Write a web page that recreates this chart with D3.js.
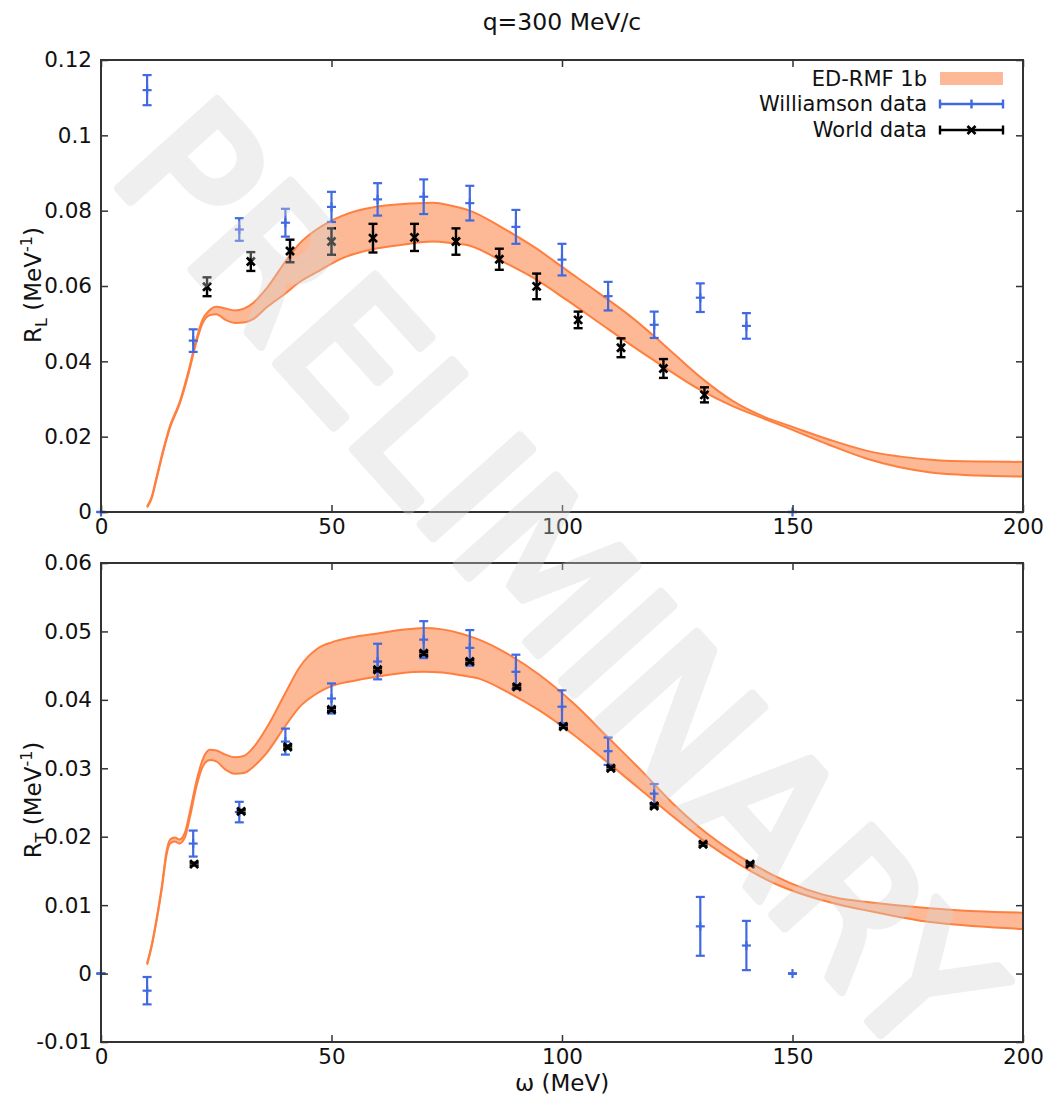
<!DOCTYPE html>
<html>
<head>
<meta charset="utf-8">
<title>q=300 MeV/c response functions</title>
<script src="https://d3js.org/d3.v7.min.js"></script>
<style>
  body { margin: 0; background: #ffffff; }
  text { font-family: "DejaVu Sans", sans-serif; fill: #111; }
</style>
</head>
<body>
<div id="chart"></div>
<script>
// ---- data ----
// ED-RMF 1b band, longitudinal response R_L
var rlBandOmega = [10, 11, 12, 13.5, 15, 17, 19, 20.5, 22, 23.5, 25, 27, 29, 31, 33, 36, 40, 43, 47, 52, 60, 65, 72, 76, 80, 87, 94, 101, 108, 115, 122, 130, 137, 144, 150, 158, 166, 180, 190, 200];
var rlUpper = [0.0015, 0.004, 0.009, 0.0165, 0.023, 0.029, 0.0375, 0.045, 0.051, 0.0535, 0.0545, 0.054, 0.0535, 0.054, 0.0555, 0.0595, 0.0665, 0.0712, 0.0752, 0.0785, 0.0811, 0.0817, 0.0821, 0.0813, 0.080, 0.0755, 0.0703, 0.0642, 0.0581, 0.0518, 0.0445, 0.0358, 0.0295, 0.0252, 0.0226, 0.0192, 0.0163, 0.0139, 0.0134, 0.0133];
var rlLower = [0.0012, 0.0037, 0.0085, 0.016, 0.0225, 0.0285, 0.0368, 0.0442, 0.050, 0.0522, 0.0525, 0.051, 0.0502, 0.0503, 0.0512, 0.0544, 0.058, 0.061, 0.0638, 0.0672, 0.070, 0.0709, 0.0718, 0.0714, 0.0707, 0.0666, 0.062, 0.0563, 0.0503, 0.0443, 0.0386, 0.0324, 0.0281, 0.0247, 0.0218, 0.0178, 0.0142, 0.0105, 0.0097, 0.0094];

// ED-RMF 1b band, transverse response R_T
var rtBandOmega = [10, 11, 12, 13.2, 14.2, 15, 16, 17, 18.2, 19.3, 20.8, 22.2, 23.6, 25, 27, 29, 31, 33, 36, 40, 43, 47, 50, 55, 60, 65, 70, 74, 78, 82, 88, 95, 102.5, 110, 117, 124, 131.4, 138.6, 142.7, 146, 153, 160, 167, 179, 190, 200];
var rtUpper = [0.0015, 0.0042, 0.0078, 0.0128, 0.0178, 0.0196, 0.0199, 0.0196, 0.0206, 0.0237, 0.0284, 0.0315, 0.0327, 0.0326, 0.032, 0.0316, 0.0318, 0.033, 0.036, 0.041, 0.0447, 0.0475, 0.0484, 0.0492, 0.0497, 0.0502, 0.0505, 0.0503, 0.0497, 0.0488, 0.0468, 0.0437, 0.0395, 0.0345, 0.0298, 0.0249, 0.0205, 0.0171, 0.0155, 0.0143, 0.0123, 0.011, 0.0104, 0.0096, 0.0091, 0.0089];
var rtLower = [0.0013, 0.004, 0.0075, 0.0124, 0.0173, 0.019, 0.0193, 0.019, 0.0199, 0.0229, 0.0276, 0.0304, 0.0312, 0.031, 0.0298, 0.0292, 0.0293, 0.0302, 0.0323, 0.0362, 0.0389, 0.041, 0.042, 0.0428, 0.0434, 0.0439, 0.0441, 0.044, 0.0436, 0.0431, 0.0412, 0.0385, 0.0349, 0.0308, 0.0269, 0.023, 0.0191, 0.0159, 0.0143, 0.0132, 0.0114, 0.0101, 0.0091, 0.0076, 0.0069, 0.0065];

// Williamson data (same omega grid for both panels)
var williamsonOmega = [0, 10, 20, 30, 40, 50, 60, 70, 80, 90, 100, 110, 120, 130, 140, 150];
var rlWilliamson = [0, 0.112, 0.0455, 0.075, 0.0768, 0.081, 0.083, 0.0837, 0.082, 0.0757, 0.067, 0.0573, 0.0497, 0.0569, 0.0494, 0];
var rlWilliamsonErr = [0, 0.004, 0.003, 0.003, 0.0037, 0.004, 0.0043, 0.0046, 0.0046, 0.0045, 0.0042, 0.0038, 0.0035, 0.0038, 0.0034, 0];
var rtWilliamson = [0, -0.0025, 0.019, 0.0236, 0.0339, 0.0402, 0.0456, 0.0488, 0.0476, 0.0441, 0.039, 0.0325, 0.0263, 0.0069, 0.0041, 0];
var rtWilliamsonErr = [0, 0.002, 0.0019, 0.0015, 0.0019, 0.0022, 0.0026, 0.0027, 0.0026, 0.0025, 0.0024, 0.002, 0.0014, 0.0043, 0.0036, 0];

// World data
var rlWorldOmega = [23, 32.5, 41, 50, 59, 68, 77, 86.4, 94.5, 103.5, 112.8, 122, 130.9];
var rlWorld = [0.0598, 0.0665, 0.0693, 0.0718, 0.0727, 0.0729, 0.0718, 0.0671, 0.0599, 0.051, 0.0436, 0.0381, 0.0311];
var rlWorldErr = [0.0025, 0.0025, 0.003, 0.0035, 0.0038, 0.0036, 0.0035, 0.0028, 0.0034, 0.0022, 0.0025, 0.0025, 0.002];
var rtWorldOmega = [20.2, 30.4, 40.5, 50, 60, 70, 80, 90.2, 100.3, 110.6, 120, 130.6, 140.8];
var rtWorld = [0.016, 0.0237, 0.0331, 0.0386, 0.0444, 0.0468, 0.0456, 0.0419, 0.0361, 0.030, 0.0245, 0.0189, 0.016];
var rtWorldErr = [0.0002, 0.0002, 0.0002, 0.0002, 0.0002, 0.0002, 0.0002, 0.0002, 0.0002, 0.0002, 0.0002, 0.0002, 0.0002];

var xTicks = [0, 50, 100, 150, 200];
var rlTicks = [0, 0.02, 0.04, 0.06, 0.08, 0.1, 0.12];
var rtTicks = [-0.01, 0, 0.01, 0.02, 0.03, 0.04, 0.05, 0.06];
var legendLabels = ["ED-RMF 1b", "Williamson data", "World data"];

// ---- layout ----
var W = 1053, H = 1097;
var bandFill = "#fdb995", bandLine = "#ff7f3f", blue = "#4169e1";

var svg = d3.select("#chart").append("svg")
    .attr("width", W)
    .attr("height", H);

var x = d3.scaleLinear().domain([0, 200]).range([101, 1023]);
var yL = d3.scaleLinear().domain([0, 0.12]).range([512, 60]);
var yT = d3.scaleLinear().domain([-0.01, 0.06]).range([1042, 563]);

function fmt(d) { return String(+d.toFixed(3)); }

function drawPanel(y, bandOmega, upper, lower, willVal, willErr, worldOmega, worldVal, worldErr, yTicks) {
  var g = svg.append("g");
  var top = y.range()[1], bottom = y.range()[0];

  // band
  var band = bandOmega.map(function(w, i) { return {w: w, hi: upper[i], lo: lower[i]}; });
  g.append("path").datum(band)
    .attr("fill", bandFill)
    .attr("d", d3.area().curve(d3.curveMonotoneX)
      .x(function(d) { return x(d.w); })
      .y0(function(d) { return y(d.lo); })
      .y1(function(d) { return y(d.hi); }));
  [upper, lower].forEach(function(arr) {
    g.append("path").datum(band)
      .attr("fill", "none")
      .attr("stroke", bandLine)
      .attr("stroke-width", 2)
      .attr("d", d3.line().curve(d3.curveMonotoneX)
        .x(function(d) { return x(d.w); })
        .y(function(d, i) { return y(arr[i]); }));
  });

  // williamson points: vertical error bars, caps, "+" marker
  var will = williamsonOmega.map(function(w, i) { return {w: w, v: willVal[i], e: willErr[i]}; });
  var wg = g.append("g").attr("stroke", blue).attr("stroke-width", 2.2);
  will.forEach(function(d) {
    var cx = x(d.w);
    wg.append("line").attr("x1", cx).attr("x2", cx).attr("y1", y(d.v - d.e)).attr("y2", y(d.v + d.e));
    [d.v - d.e, d.v + d.e].forEach(function(v) {
      wg.append("line").attr("x1", cx - 4.5).attr("x2", cx + 4.5).attr("y1", y(v)).attr("y2", y(v));
    });
    wg.append("line").attr("x1", cx - 4.5).attr("x2", cx + 4.5).attr("y1", y(d.v)).attr("y2", y(d.v));
    wg.append("line").attr("x1", cx).attr("x2", cx).attr("y1", y(d.v) - 4.5).attr("y2", y(d.v) + 4.5);
  });

  // world data: error bars + "x" marker
  var kg = g.append("g").attr("stroke", "#000").attr("stroke-width", 2.4);
  worldOmega.forEach(function(w, i) {
    var cx = x(w), v = worldVal[i], e = worldErr[i], cy = y(v);
    kg.append("line").attr("x1", cx).attr("x2", cx).attr("y1", y(v - e)).attr("y2", y(v + e));
    [v - e, v + e].forEach(function(vv) {
      kg.append("line").attr("x1", cx - 4.5).attr("x2", cx + 4.5).attr("y1", y(vv)).attr("y2", y(vv));
    });
    kg.append("path").attr("stroke-width", 2.7)
      .attr("d", "M" + (cx - 4) + "," + (cy - 4) + "L" + (cx + 4) + "," + (cy + 4) +
                 "M" + (cx - 4) + "," + (cy + 4) + "L" + (cx + 4) + "," + (cy - 4));
  });

  // axes with inward ticks on all four sides
  g.append("g").attr("transform", "translate(101,0)")
    .call(d3.axisLeft(y).tickValues(yTicks).tickSizeInner(-7).tickSizeOuter(0).tickPadding(9).tickFormat(fmt));
  g.append("g").attr("transform", "translate(1023,0)")
    .call(d3.axisRight(y).tickValues(yTicks).tickSizeInner(-7).tickSizeOuter(0).tickFormat(""));
  g.append("g").attr("transform", "translate(0," + bottom + ")")
    .call(d3.axisBottom(x).tickValues(xTicks).tickSizeInner(-7).tickSizeOuter(0).tickPadding(7).tickFormat(fmt));
  g.append("g").attr("transform", "translate(0," + top + ")")
    .call(d3.axisTop(x).tickValues(xTicks).tickSizeInner(-7).tickSizeOuter(0).tickFormat(""));
  g.selectAll(".domain").remove();
  g.selectAll(".tick line").attr("stroke", "#333").attr("stroke-width", 1.5);
  g.selectAll(".tick text").style("font-size", "21.5px").style("font-family", "DejaVu Sans").attr("fill", "#111");

  g.append("rect")
    .attr("x", 101).attr("y", top)
    .attr("width", 922).attr("height", bottom - top)
    .attr("fill", "none").attr("stroke", "#333").attr("stroke-width", 2);
}

drawPanel(yL, rlBandOmega, rlUpper, rlLower, rlWilliamson, rlWilliamsonErr, rlWorldOmega, rlWorld, rlWorldErr, rlTicks);
drawPanel(yT, rtBandOmega, rtUpper, rtLower, rtWilliamson, rtWilliamsonErr, rtWorldOmega, rtWorld, rtWorldErr, rtTicks);

// titles and labels
svg.append("text").attr("x", 562).attr("y", 30).attr("text-anchor", "middle")
  .style("font-size", "23.5px").text("q=300 MeV/c");
svg.append("text").attr("x", 562).attr("y", 1091).attr("text-anchor", "middle")
  .style("font-size", "23px").text("ω (MeV)");

function yLabel(cy, sub) {
  var t = svg.append("text")
    .attr("transform", "translate(41," + cy + ") rotate(-90)")
    .attr("text-anchor", "middle")
    .style("font-size", "23px");
  t.append("tspan").text("R");
  t.append("tspan").attr("dy", 6).style("font-size", "16px").text(sub);
  t.append("tspan").attr("dy", -6).text(" (MeV");
  t.append("tspan").attr("dy", -9).style("font-size", "16px").text("-1");
  t.append("tspan").attr("dy", 9).text(")");
}
yLabel(285, "L");
yLabel(800, "T");

// legend (top panel)
var lg = svg.append("g");
var rowY = [79, 104, 130];
legendLabels.forEach(function(lab, i) {
  lg.append("text").attr("x", 927).attr("y", rowY[i]).attr("text-anchor", "end")
    .attr("dominant-baseline", "central").style("font-size", "21px").text(lab);
});
lg.append("rect").attr("x", 940).attr("y", rowY[0] - 7).attr("width", 63).attr("height", 13).attr("fill", bandFill);
[[blue, "+"], ["#000", "x"]].forEach(function(s, i) {
  var yy = rowY[i + 1], c = s[0];
  var sg = lg.append("g").attr("stroke", c).attr("stroke-width", 2.4);
  sg.append("line").attr("x1", 940).attr("x2", 1003).attr("y1", yy).attr("y2", yy);
  [940, 1003].forEach(function(xx) {
    sg.append("line").attr("x1", xx).attr("x2", xx).attr("y1", yy - 4.5).attr("y2", yy + 4.5);
  });
  if (s[1] === "+") {
    sg.append("line").attr("x1", 971.5).attr("x2", 971.5).attr("y1", yy - 4.5).attr("y2", yy + 4.5);
  } else {
    sg.append("path").attr("stroke-width", 2.7)
      .attr("d", "M967.5," + (yy - 4) + "L975.5," + (yy + 4) + "M967.5," + (yy + 4) + "L975.5," + (yy - 4));
  }
});

// watermark on top
svg.append("g").attr("opacity", 0.35)
  .append("text")
    .attr("transform", "translate(556,580) rotate(48)")
    .attr("text-anchor", "middle")
    .attr("dominant-baseline", "central")
    .style("font-size", "182px")
    .style("fill", "#d4d4d4")
    .attr("stroke", "#d4d4d4")
    .attr("stroke-width", 9)
    .attr("stroke-linejoin", "round")
    .text("PRELIMINARY");
</script>
</body>
</html>
